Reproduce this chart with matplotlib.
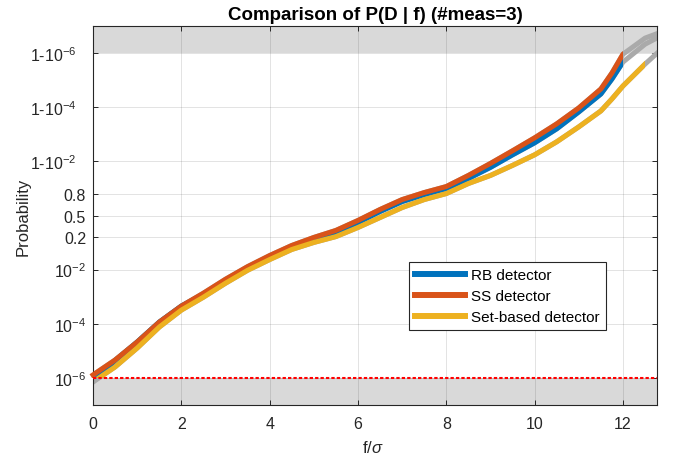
import numpy as np
import matplotlib
matplotlib.use("Agg")
import matplotlib.pyplot as plt
from matplotlib.patches import Rectangle

plt.rcParams['font.family'] = ['Liberation Sans', 'DejaVu Sans']
plt.rcParams['mathtext.fontset'] = 'custom'
plt.rcParams['mathtext.rm'] = 'Liberation Sans'
plt.rcParams['mathtext.it'] = 'Liberation Sans:italic'

# f / sigma
f = [0, 0.5, 1, 1.5, 2, 2.5, 3, 3.5, 4, 4.5, 5, 5.5, 6, 6.5, 7, 7.5, 8,
     8.5, 9, 9.5, 10, 10.5, 11, 11.5, 11.75, 12, 12.5, 12.8]

p_rb = [7.1e-7, 4.4e-6, 2.12e-5, 1.15e-4, 4.5e-4, 1.24e-3, 4.05e-3, 0.01204,
        0.0347, 0.0878, 0.1745, 0.249, 0.388, 0.565, 0.713, 0.797, 0.875,
        0.9494, 0.9823, 0.99431, 0.99794, 0.999372, 0.999851, 0.9999676,
        0.9999909, 0.99999785, 0.99999953, 0.99999974]
p_ss = [1.29e-6, 4.6e-6, 2.12e-5, 1.15e-4, 4.5e-4, 1.35e-3, 4.4e-3, 0.01325,
        0.0382, 0.096, 0.189, 0.274, 0.420, 0.597, 0.739, 0.8255, 0.895,
        0.9619, 0.9879, 0.99595, 0.99865, 0.999589, 0.999894, 0.9999788,
        0.99999454, 0.9999989, 0.99999972, 0.999999816]
p_set = [7.1e-7, 2.55e-6, 1.27e-5, 7.55e-5, 3.2e-4, 9.6e-4, 3.14e-3, 0.00937,
         0.0261, 0.0670, 0.125, 0.2015, 0.314, 0.467, 0.627, 0.739, 0.811,
         0.9197, 0.9619, 0.9854, 0.99431, 0.99811, 0.99947, 0.999863,
         0.9999506, 0.9999836, 0.99999745, 0.99999908]

labels = ['RB detector', 'SS detector', 'Set-based detector']
colors = ['#0072BD', '#D95319', '#EDB120']
f_valid = [12.0, 12.0, 12.5]   # beyond this the curve is shown in gray
p_min = 1e-6

yticks = [1e-6, 1e-4, 1e-2, 0.2, 0.5, 0.8, 1 - 1e-2, 1 - 1e-4, 1 - 1e-6]
yticklabels = [r'10$^{-6}$', r'10$^{-4}$', r'10$^{-2}$', '0.2', '0.5', '0.8',
               r'1-10$^{-2}$   ', r'1-10$^{-4}$   ', r'1-10$^{-6}$   ']

# logit axis, slightly stretched around 0.5
L_knots = [-20, -2, -0.602, 0, 0.602, 2, 20]
Y_knots = [-20, -2, -0.784, 0, 0.784, 2, 20]


def fwd(p):
    p = np.clip(np.asarray(p, dtype=float), 1e-15, 1 - 1e-15)
    return np.interp(np.log10(p / (1 - p)), L_knots, Y_knots)


def inv(y):
    L = np.interp(y, Y_knots, L_knots)
    return 1 / (1 + 10.0 ** (-L))


fig = plt.figure(figsize=(6.75, 4.64), dpi=100)
ax = fig.add_axes([0.1378, 0.125, 0.8355, 0.8168])
ax.set_yscale('function', functions=(fwd, inv))

ax.axhspan(1e-9, p_min, color='#d9d9d9', lw=0, zorder=0.2)
ax.axhspan(1 - p_min, 1 - 1e-9, color='#d9d9d9', lw=0, zorder=0.2)

for p in [p_rb, p_ss, p_set]:
    ax.plot(f, p, color='#aaaaaa', lw=3.6, solid_joinstyle='round', zorder=2)

for p, c, lab, fm in zip([p_rb, p_ss, p_set], colors, labels, f_valid):
    line, = ax.plot(f, p, color=c, lw=3.6, label=lab,
                    solid_joinstyle='round', zorder=3)
    clip = Rectangle((-1, p_min), fm + 1, 1 - 1e-9 - p_min,
                     transform=ax.transData)
    line.set_clip_path(clip)

ax.axhline(p_min, color='#ff0000', lw=1.5, ls=(0, (1.6, 1.0)), zorder=4)

ax.set_xlim(0, 12.77)
ax.set_ylim(1e-7, 1 - 1e-7)
ax.set_xticks([0, 2, 4, 6, 8, 10, 12])
ax.set_yticks(yticks)
ax.set_yticklabels(yticklabels)
ax.yaxis.set_minor_locator(matplotlib.ticker.NullLocator())

ax.grid(True, color='#262626', alpha=0.15, lw=0.6)
ax.set_axisbelow(True)
ax.tick_params(direction='in', length=3.6, width=0.7, top=True, right=True,
               labelsize=11.5, colors='#262626')
ax.tick_params(axis='x', pad=8)
ax.tick_params(axis='y', pad=5)
for s in ax.spines.values():
    s.set_color('#262626')
    s.set_linewidth(0.8)

ax.set_title('Comparison of P(D | f) (#meas=3)', fontsize=13.5,
             fontweight='bold', pad=5)
ax.set_xlabel(r'f/$\sigma$', fontsize=12, color='#262626')
ax.set_ylabel('Probability', fontsize=12, color='#262626')
ax.xaxis.set_label_coords(0.496, -0.09)
ax.yaxis.set_label_coords(-0.110, 0.5)

leg = ax.legend(loc='upper left', bbox_to_anchor=(0.560, 0.3773),
                borderaxespad=0, fontsize=11, handlelength=3.3,
                handletextpad=0.4, borderpad=0.4, labelspacing=0.45,
                fancybox=False, framealpha=1, edgecolor='#262626')
leg.get_frame().set_linewidth(0.8)
for h in leg.get_lines():
    h.set_linewidth(4.3)

fig.savefig('out.png', dpi=100, facecolor='white')
